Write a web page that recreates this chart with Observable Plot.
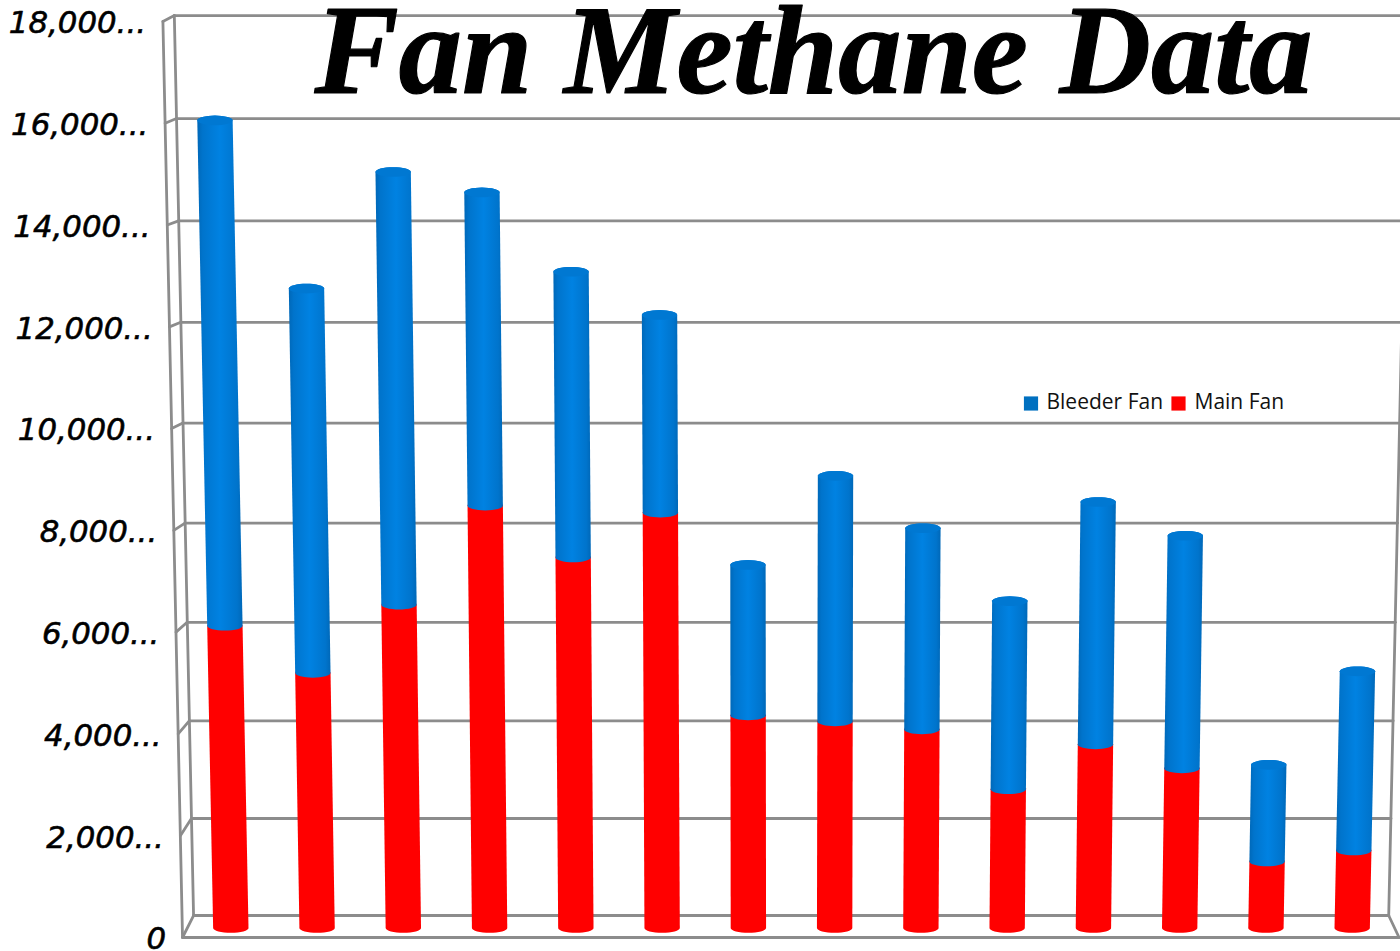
<!DOCTYPE html>
<html>
<head>
<meta charset="utf-8">
<script src="https://cdn.jsdelivr.net/npm/d3@7"></script>
<script src="https://cdn.jsdelivr.net/npm/@observablehq/plot@0.6"></script>
<style>html,body{margin:0;padding:0;background:#fff;overflow:hidden}</style>
</head>
<body>
<div id="holder"></div>
<script>
const mainFan = [6020, 5080, 6440, 8410, 7380, 8270, 4230, 4110, 3950, 2750, 3650, 3170, 1300, 1520];
const bleederFan = [9980, 7620, 8550, 6180, 5650, 3910, 3000, 4890, 4010, 3760, 4830, 4640, 1940, 3590];
const yTicks = [0, 2000, 4000, 6000, 8000, 10000, 12000, 14000, 16000, 18000];
const yLabels = ["0", "2,000...", "4,000...", "6,000...", "8,000...", "10,000...", "12,000...", "14,000...", "16,000...", "18,000..."];
const seriesNames = ["Bleeder Fan", "Main Fan"];
const titleText = "Fan Methane Data";

// 3-D look of the chart: planes and lean of the verticals, in scale units
const vanish = 6.37, leanRate = 1.82e-6;
const lean = (i, v) => i + (i - vanish) * leanRate * v;
const backPlane = v => 432 + 0.9493 * v + 1.842e-6 * v * v;
const midPlane = v => (v + backPlane(v)) / 2;
const leftBack = -0.44, leftFront = -0.568, rightBack = 13.42, rightFront = 13.54;
const halfWidth = 0.205, capHeight = 95, baseDrop = 40;
const arc = d3.range(0, 1.0001, 0.125);

function cylinder(i, v0, v1) {
  const y0 = midPlane(v0), y1 = midPlane(v1), pts = [];
  const push = (y, h) => {
    const c = lean(i, y);
    pts.push({key: i, y, x1: c - h, x2: c + h});
  };
  arc.forEach(t => push(y0 - capHeight * Math.cos(t * Math.PI / 2), halfWidth * Math.sin(t * Math.PI / 2)));
  arc.slice().reverse().forEach(t => push(y1 + capHeight * Math.cos(t * Math.PI / 2), halfWidth * Math.sin(t * Math.PI / 2)));
  return pts;
}
function capOf(i, v) {
  const y = midPlane(v), pts = [];
  const c = lean(i, y);
  arc.forEach(t => pts.push({key: i, y: y - capHeight * Math.cos(t * Math.PI / 2), x1: c - halfWidth * Math.sin(t * Math.PI / 2), x2: c + halfWidth * Math.sin(t * Math.PI / 2)}));
  arc.slice().reverse().forEach(t => pts.push({key: i, y: y + capHeight * Math.cos(t * Math.PI / 2), x1: c - halfWidth * Math.sin(t * Math.PI / 2), x2: c + halfWidth * Math.sin(t * Math.PI / 2)}));
  return pts;
}
const mainRows = mainFan.flatMap((m, i) => cylinder(i, -baseDrop, m));
const bleederRows = bleederFan.flatMap((b, i) => cylinder(i, mainFan[i], mainFan[i] + b));
const capRows = bleederFan.flatMap((b, i) => capOf(i, mainFan[i] + b));

const maxTick = yTicks[yTicks.length - 1];
const segs = [];
const seg = (key, a, b) => { segs.push({key, x: a[0], y: a[1]}, {key, x: b[0], y: b[1]}); };
yTicks.forEach(v => {
  seg("grid" + v, [lean(leftBack, v), backPlane(v)], [lean(rightBack, v), backPlane(v)]);
  seg("stub" + v, [lean(leftBack, v), backPlane(v)], [lean(leftFront, v), v]);
});
seg("leftBack", [lean(leftBack, 0), backPlane(0)], [lean(leftBack, maxTick), backPlane(maxTick)]);
seg("leftFront", [lean(leftFront, 0), 0], [lean(leftFront, maxTick), maxTick]);
seg("rightBack", [lean(rightBack, 0), backPlane(0)], [lean(rightBack, maxTick), backPlane(maxTick)]);
seg("floorFront", [lean(leftFront, 0), 0], [rightFront, 0]);
seg("floorRight", [rightBack, backPlane(0)], [rightFront, 0]);

const labelRows = yTicks.map((v, k) => ({x: lean(leftFront - 0.19, v), y: v, label: yLabels[k]}));

const figure = Plot.plot({
  width: 1400, height: 951,
  marginTop: 0, marginRight: 0, marginBottom: 0, marginLeft: 0,
  x: {domain: [0, 13], range: [231, 1352], axis: null},
  y: {domain: [0, 18000], range: [937, 21], axis: null},
  style: {background: "#fff"},
  marks: [
    Plot.line(segs, {x: "x", y: "y", z: "key", stroke: "#8c8c8c", strokeWidth: 2.8}),
    Plot.areaX(mainRows, {x1: "x1", x2: "x2", y: "y", z: "key", fill: "#ff0000"}),
    Plot.areaX(bleederRows, {x1: "x1", x2: "x2", y: "y", z: "key", fill: "url(#blueBody)"}),
    Plot.areaX(capRows, {x1: "x1", x2: "x2", y: "y", z: "key", fill: "#0078d2"}),
    Plot.text(labelRows, {x: "x", y: "y", text: "label", textAnchor: "end", dy: 2, fill: "#000", stroke: "#000", strokeWidth: 0.6,
      fontFamily: "DejaVu Sans", fontStyle: "italic", fontSize: 30.8}),
    Plot.text([titleText], {frameAnchor: "top-left", dx: 314, dy: 52, textAnchor: "start", lineAnchor: "middle",
      fill: "#000", stroke: "#000", strokeWidth: 1.2, fontFamily: "Liberation Serif", fontWeight: "bold", fontStyle: "italic", fontSize: 126.5,
      ariaLabel: "title"}),
    Plot.dot([seriesNames[0]], {frameAnchor: "top-left", dx: 1030.5, dy: 403, symbol: "square", r: 8, fill: "#0070c0"}),
    Plot.dot([seriesNames[1]], {frameAnchor: "top-left", dx: 1178, dy: 403, symbol: "square", r: 8, fill: "#ff0000"}),
    Plot.text([seriesNames[0]], {frameAnchor: "top-left", dx: 1046, dy: 402, textAnchor: "start", lineAnchor: "middle", fill: "#111",
      fontFamily: "Open Sans", fontSize: 21}),
    Plot.text([seriesNames[1]], {frameAnchor: "top-left", dx: 1194, dy: 402, textAnchor: "start", lineAnchor: "middle", fill: "#111",
      fontFamily: "Open Sans", fontSize: 21})
  ]
});

const defs = d3.select(figure).insert("defs", ":first-child");
const g = defs.append("linearGradient").attr("id", "blueBody").attr("x1", 0).attr("x2", 1).attr("y1", 0).attr("y2", 0);
[[0, "#0068b8"], [0.12, "#0074cc"], [0.5, "#0082e2"], [0.88, "#0074cc"], [1, "#0068b8"]].forEach(([o, c]) =>
  g.append("stop").attr("offset", o).attr("stop-color", c));
document.getElementById("holder").appendChild(figure);
</script>
</body>
</html>
